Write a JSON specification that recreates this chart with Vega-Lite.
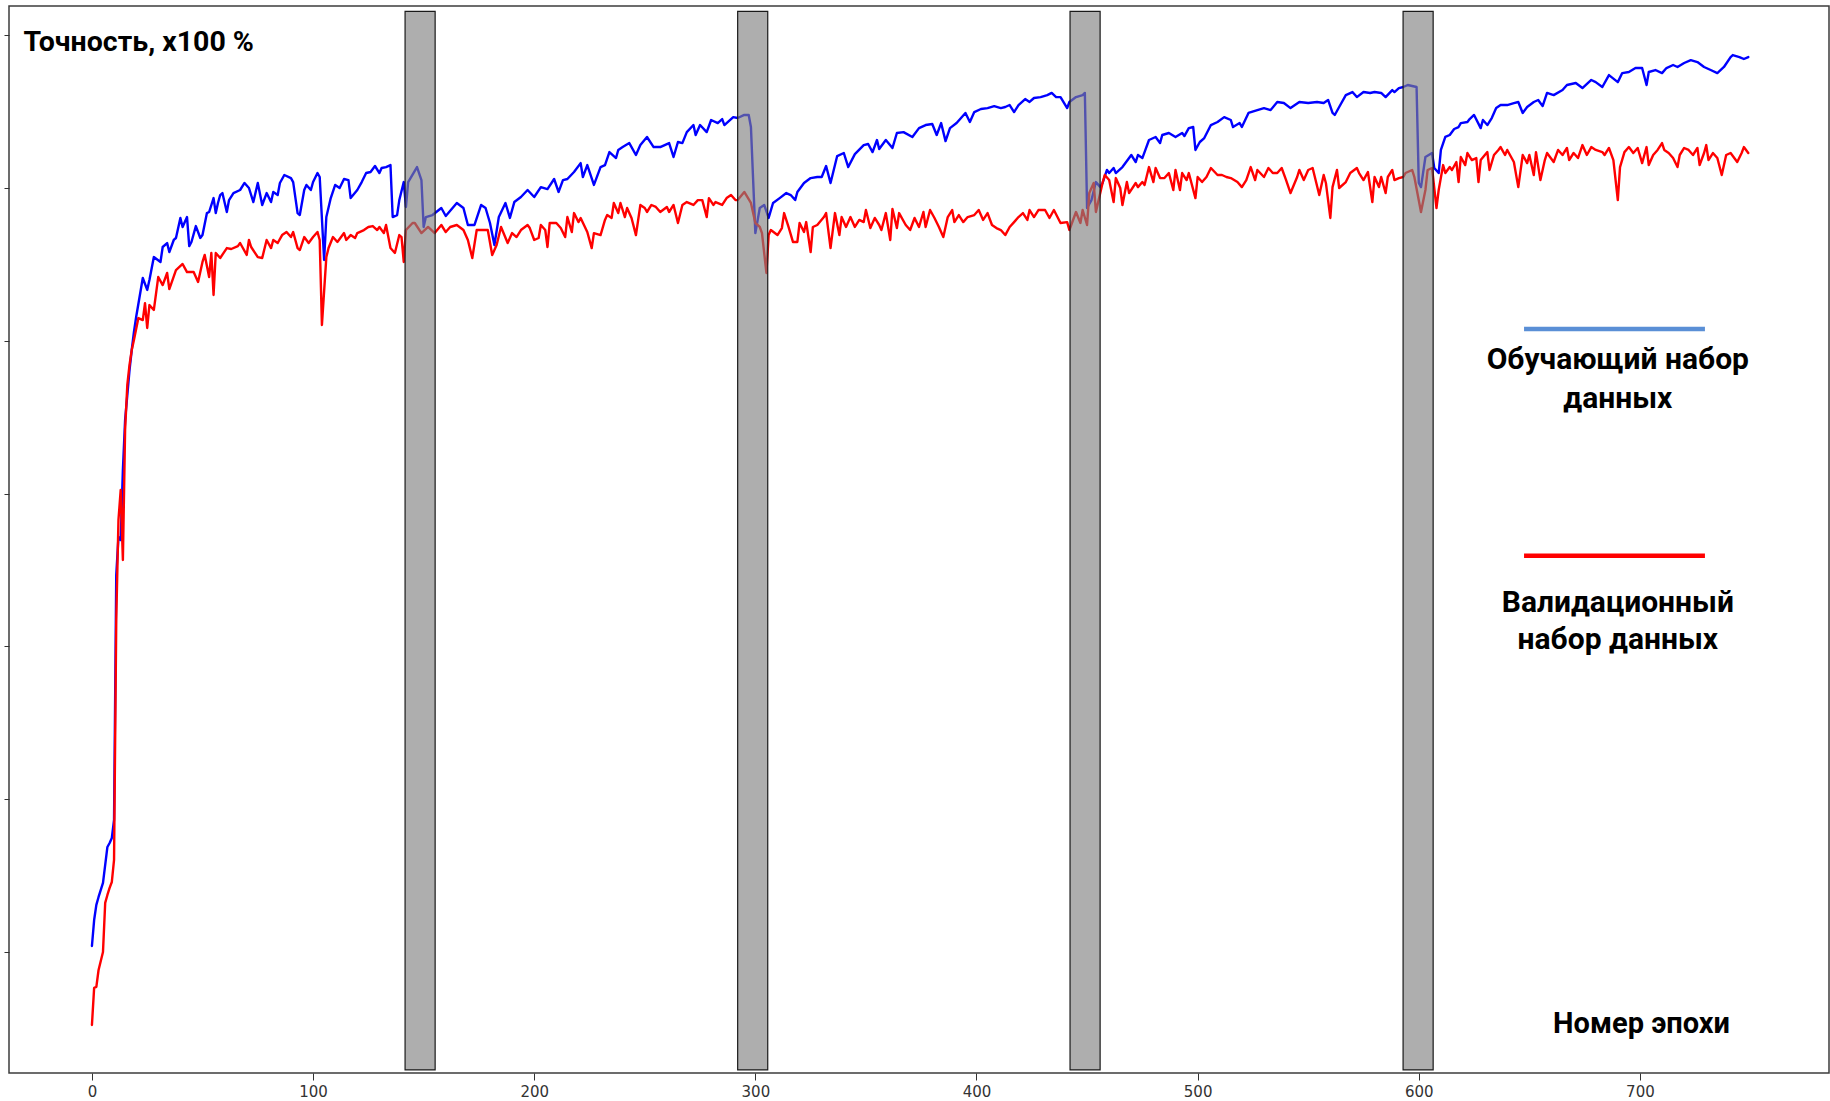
{
"$schema": "https://vega.github.io/schema/vega-lite/v6.json",
"width": 1820,
"height": 1067,
"autosize": {"type": "none"},
"padding": {"left": 9, "top": 6, "right": 1, "bottom": 28},
"background": "white",
"config": {"view": {"stroke": "#3c3c3c", "strokeWidth": 1.5}, "font": "Roboto"},
"datasets": {
"curves": [
{"set":"train","epoch":0,"acc":30.39},{"set":"train","epoch":1,"acc":32.09},{"set":"train","epoch":2,"acc":33.08},{"set":"train","epoch":3,"acc":33.6},{"set":"train","epoch":5,"acc":34.52},{"set":"train","epoch":7,"acc":36.87},{"set":"train","epoch":8,"acc":37.13},{"set":"train","epoch":9,"acc":37.46},{"set":"train","epoch":10,"acc":38.64},{"set":"train","epoch":11,"acc":54.67},{"set":"train","epoch":12,"acc":57.15},{"set":"train","epoch":13,"acc":56.96},{"set":"train","epoch":14,"acc":61.54},{"set":"train","epoch":15,"acc":64.81},{"set":"train","epoch":16,"acc":66.44},{"set":"train","epoch":17,"acc":68.08},{"set":"train","epoch":18,"acc":69.39},{"set":"train","epoch":19,"acc":70.57},{"set":"train","epoch":20,"acc":71.55},{"set":"train","epoch":23,"acc":74.1},{"set":"train","epoch":25,"acc":73.32},{"set":"train","epoch":26,"acc":73.97},{"set":"train","epoch":28,"acc":75.47},{"set":"train","epoch":31,"acc":75.15},{"set":"train","epoch":32,"acc":76.13},{"set":"train","epoch":34,"acc":76.39},{"set":"train","epoch":35,"acc":75.8},{"set":"train","epoch":37,"acc":76.59},{"set":"train","epoch":38,"acc":76.72},{"set":"train","epoch":40,"acc":78.03},{"set":"train","epoch":41,"acc":77.44},{"set":"train","epoch":43,"acc":78.09},{"set":"train","epoch":44,"acc":76.19},{"set":"train","epoch":45,"acc":76.46},{"set":"train","epoch":47,"acc":77.5},{"set":"train","epoch":49,"acc":76.72},{"set":"train","epoch":50,"acc":76.91},{"set":"train","epoch":52,"acc":78.35},{"set":"train","epoch":53,"acc":78.42},{"set":"train","epoch":55,"acc":79.33},{"set":"train","epoch":56,"acc":78.35},{"set":"train","epoch":57,"acc":79.01},{"set":"train","epoch":58,"acc":79.53},{"set":"train","epoch":59,"acc":79.66},{"set":"train","epoch":61,"acc":78.42},{"set":"train","epoch":62,"acc":79.2},{"set":"train","epoch":64,"acc":79.66},{"set":"train","epoch":67,"acc":79.86},{"set":"train","epoch":69,"acc":80.32},{"set":"train","epoch":71,"acc":79.99},{"set":"train","epoch":73,"acc":79.07},{"set":"train","epoch":75,"acc":80.32},{"set":"train","epoch":77,"acc":78.88},{"set":"train","epoch":79,"acc":79.66},{"set":"train","epoch":81,"acc":79.07},{"set":"train","epoch":82,"acc":79.73},{"set":"train","epoch":84,"acc":79.53},{"set":"train","epoch":85,"acc":80.32},{"set":"train","epoch":87,"acc":80.84},{"set":"train","epoch":90,"acc":80.64},{"set":"train","epoch":91,"acc":80.38},{"set":"train","epoch":93,"acc":78.35},{"set":"train","epoch":94,"acc":78.22},{"set":"train","epoch":96,"acc":79.86},{"set":"train","epoch":97,"acc":80.19},{"set":"train","epoch":99,"acc":79.86},{"set":"train","epoch":100,"acc":80.38},{"set":"train","epoch":102,"acc":80.97},{"set":"train","epoch":103,"acc":80.71},{"set":"train","epoch":105,"acc":75.28},{"set":"train","epoch":106,"acc":78.09},{"set":"train","epoch":108,"acc":79.33},{"set":"train","epoch":110,"acc":80.19},{"set":"train","epoch":112,"acc":79.99},{"set":"train","epoch":114,"acc":80.58},{"set":"train","epoch":116,"acc":80.51},{"set":"train","epoch":117,"acc":79.33},{"set":"train","epoch":120,"acc":79.86},{"set":"train","epoch":122,"acc":80.38},{"set":"train","epoch":124,"acc":80.97},{"set":"train","epoch":126,"acc":81.04},{"set":"train","epoch":128,"acc":81.43},{"set":"train","epoch":130,"acc":80.97},{"set":"train","epoch":131,"acc":81.3},{"set":"train","epoch":133,"acc":81.36},{"set":"train","epoch":135,"acc":81.49},{"set":"train","epoch":136,"acc":78.09},{"set":"train","epoch":138,"acc":78.22},{"set":"train","epoch":139,"acc":79.2},{"set":"train","epoch":141,"acc":80.38},{"set":"train","epoch":142,"acc":78.75},{"set":"train","epoch":143,"acc":80.38},{"set":"train","epoch":147,"acc":81.36},{"set":"train","epoch":149,"acc":80.51},{"set":"train","epoch":150,"acc":77.44},{"set":"train","epoch":151,"acc":78.09},{"set":"train","epoch":154,"acc":78.22},{"set":"train","epoch":158,"acc":78.68},{"set":"train","epoch":160,"acc":78.16},{"set":"train","epoch":165,"acc":79.01},{"set":"train","epoch":168,"acc":78.68},{"set":"train","epoch":170,"acc":77.57},{"set":"train","epoch":173,"acc":77.57},{"set":"train","epoch":176,"acc":78.88},{"set":"train","epoch":178,"acc":78.68},{"set":"train","epoch":180,"acc":77.7},{"set":"train","epoch":182,"acc":76.26},{"set":"train","epoch":184,"acc":78.09},{"set":"train","epoch":187,"acc":79.01},{"set":"train","epoch":189,"acc":78.03},{"set":"train","epoch":191,"acc":79.07},{"set":"train","epoch":194,"acc":79.4},{"set":"train","epoch":197,"acc":79.86},{"set":"train","epoch":200,"acc":79.4},{"set":"train","epoch":203,"acc":80.05},{"set":"train","epoch":206,"acc":79.92},{"set":"train","epoch":209,"acc":80.58},{"set":"train","epoch":211,"acc":79.73},{"set":"train","epoch":213,"acc":80.51},{"set":"train","epoch":215,"acc":80.58},{"set":"train","epoch":218,"acc":81.04},{"set":"train","epoch":221,"acc":81.62},{"set":"train","epoch":222,"acc":80.71},{"set":"train","epoch":224,"acc":81.49},{"set":"train","epoch":227,"acc":80.19},{"set":"train","epoch":230,"acc":81.36},{"set":"train","epoch":232,"acc":81.49},{"set":"train","epoch":234,"acc":82.34},{"set":"train","epoch":237,"acc":81.95},{"set":"train","epoch":238,"acc":82.48},{"set":"train","epoch":240,"acc":82.67},{"set":"train","epoch":243,"acc":82.93},{"set":"train","epoch":246,"acc":82.15},{"set":"train","epoch":248,"acc":82.8},{"set":"train","epoch":251,"acc":83.33},{"set":"train","epoch":254,"acc":82.67},{"set":"train","epoch":257,"acc":82.67},{"set":"train","epoch":261,"acc":82.93},{"set":"train","epoch":263,"acc":82.02},{"set":"train","epoch":265,"acc":83.0},{"set":"train","epoch":267,"acc":82.93},{"set":"train","epoch":269,"acc":83.65},{"set":"train","epoch":272,"acc":84.11},{"set":"train","epoch":273,"acc":83.46},{"set":"train","epoch":275,"acc":84.11},{"set":"train","epoch":278,"acc":83.65},{"set":"train","epoch":280,"acc":84.44},{"set":"train","epoch":283,"acc":84.24},{"set":"train","epoch":285,"acc":84.5},{"set":"train","epoch":286,"acc":84.11},{"set":"train","epoch":290,"acc":84.63},{"set":"train","epoch":292,"acc":84.57},{"set":"train","epoch":295,"acc":84.77},{"set":"train","epoch":297,"acc":84.77},{"set":"train","epoch":298,"acc":83.98},{"set":"train","epoch":300,"acc":77.04},{"set":"train","epoch":302,"acc":78.68},{"set":"train","epoch":304,"acc":78.88},{"set":"train","epoch":306,"acc":78.03},{"set":"train","epoch":308,"acc":79.01},{"set":"train","epoch":311,"acc":79.33},{"set":"train","epoch":314,"acc":79.66},{"set":"train","epoch":316,"acc":79.53},{"set":"train","epoch":318,"acc":79.2},{"set":"train","epoch":319,"acc":79.73},{"set":"train","epoch":322,"acc":80.32},{"set":"train","epoch":325,"acc":80.64},{"set":"train","epoch":328,"acc":80.71},{"set":"train","epoch":330,"acc":80.71},{"set":"train","epoch":332,"acc":81.43},{"set":"train","epoch":334,"acc":80.32},{"set":"train","epoch":337,"acc":82.08},{"set":"train","epoch":340,"acc":82.28},{"set":"train","epoch":342,"acc":81.36},{"set":"train","epoch":345,"acc":82.21},{"set":"train","epoch":349,"acc":82.8},{"set":"train","epoch":351,"acc":82.87},{"set":"train","epoch":353,"acc":82.34},{"set":"train","epoch":355,"acc":83.13},{"set":"train","epoch":356,"acc":82.54},{"set":"train","epoch":359,"acc":83.13},{"set":"train","epoch":362,"acc":82.61},{"set":"train","epoch":364,"acc":83.59},{"set":"train","epoch":367,"acc":83.65},{"set":"train","epoch":371,"acc":83.33},{"set":"train","epoch":374,"acc":83.91},{"set":"train","epoch":377,"acc":84.11},{"set":"train","epoch":380,"acc":84.18},{"set":"train","epoch":382,"acc":83.46},{"set":"train","epoch":384,"acc":84.24},{"set":"train","epoch":386,"acc":83.06},{"set":"train","epoch":388,"acc":83.91},{"set":"train","epoch":391,"acc":84.24},{"set":"train","epoch":395,"acc":84.9},{"set":"train","epoch":397,"acc":84.31},{"set":"train","epoch":399,"acc":84.96},{"set":"train","epoch":402,"acc":85.16},{"set":"train","epoch":405,"acc":85.22},{"set":"train","epoch":408,"acc":85.35},{"set":"train","epoch":411,"acc":85.22},{"set":"train","epoch":413,"acc":85.29},{"set":"train","epoch":415,"acc":85.42},{"set":"train","epoch":417,"acc":84.96},{"set":"train","epoch":419,"acc":85.42},{"set":"train","epoch":422,"acc":85.81},{"set":"train","epoch":424,"acc":85.62},{"set":"train","epoch":426,"acc":85.88},{"set":"train","epoch":429,"acc":85.94},{"set":"train","epoch":432,"acc":86.07},{"set":"train","epoch":434,"acc":86.21},{"set":"train","epoch":436,"acc":85.94},{"set":"train","epoch":438,"acc":85.94},{"set":"train","epoch":441,"acc":85.22},{"set":"train","epoch":442,"acc":85.62},{"set":"train","epoch":445,"acc":85.94},{"set":"train","epoch":448,"acc":86.07},{"set":"train","epoch":449,"acc":86.21},{"set":"train","epoch":450,"acc":78.68},{"set":"train","epoch":452,"acc":79.2},{"set":"train","epoch":454,"acc":80.38},{"set":"train","epoch":456,"acc":80.05},{"set":"train","epoch":457,"acc":80.32},{"set":"train","epoch":459,"acc":81.17},{"set":"train","epoch":460,"acc":80.97},{"set":"train","epoch":462,"acc":81.3},{"set":"train","epoch":463,"acc":80.97},{"set":"train","epoch":466,"acc":81.36},{"set":"train","epoch":470,"acc":82.15},{"set":"train","epoch":472,"acc":81.69},{"set":"train","epoch":473,"acc":82.15},{"set":"train","epoch":475,"acc":81.95},{"set":"train","epoch":476,"acc":82.34},{"set":"train","epoch":478,"acc":83.13},{"set":"train","epoch":481,"acc":83.33},{"set":"train","epoch":483,"acc":82.93},{"set":"train","epoch":484,"acc":83.46},{"set":"train","epoch":487,"acc":83.59},{"set":"train","epoch":490,"acc":83.33},{"set":"train","epoch":493,"acc":83.59},{"set":"train","epoch":494,"acc":83.39},{"set":"train","epoch":496,"acc":83.91},{"set":"train","epoch":498,"acc":83.98},{"set":"train","epoch":499,"acc":82.48},{"set":"train","epoch":501,"acc":83.0},{"set":"train","epoch":503,"acc":83.26},{"set":"train","epoch":506,"acc":84.11},{"set":"train","epoch":509,"acc":84.31},{"set":"train","epoch":512,"acc":84.63},{"set":"train","epoch":515,"acc":84.44},{"set":"train","epoch":516,"acc":83.98},{"set":"train","epoch":519,"acc":84.24},{"set":"train","epoch":520,"acc":83.98},{"set":"train","epoch":523,"acc":84.9},{"set":"train","epoch":527,"acc":85.09},{"set":"train","epoch":530,"acc":85.22},{"set":"train","epoch":533,"acc":85.09},{"set":"train","epoch":536,"acc":85.62},{"set":"train","epoch":539,"acc":85.55},{"set":"train","epoch":542,"acc":85.22},{"set":"train","epoch":546,"acc":85.62},{"set":"train","epoch":550,"acc":85.55},{"set":"train","epoch":554,"acc":85.62},{"set":"train","epoch":557,"acc":85.55},{"set":"train","epoch":559,"acc":85.75},{"set":"train","epoch":561,"acc":84.9},{"set":"train","epoch":562,"acc":84.77},{"set":"train","epoch":564,"acc":85.29},{"set":"train","epoch":567,"acc":86.07},{"set":"train","epoch":570,"acc":86.27},{"set":"train","epoch":572,"acc":85.94},{"set":"train","epoch":575,"acc":86.27},{"set":"train","epoch":578,"acc":86.21},{"set":"train","epoch":580,"acc":86.27},{"set":"train","epoch":583,"acc":86.21},{"set":"train","epoch":585,"acc":85.94},{"set":"train","epoch":588,"acc":86.4},{"set":"train","epoch":589,"acc":86.27},{"set":"train","epoch":591,"acc":86.53},{"set":"train","epoch":593,"acc":86.6},{"set":"train","epoch":595,"acc":86.73},{"set":"train","epoch":599,"acc":86.6},{"set":"train","epoch":600,"acc":80.32},{"set":"train","epoch":601,"acc":80.05},{"set":"train","epoch":603,"acc":82.02},{"set":"train","epoch":606,"acc":82.28},{"set":"train","epoch":607,"acc":81.3},{"set":"train","epoch":609,"acc":80.97},{"set":"train","epoch":610,"acc":82.48},{"set":"train","epoch":612,"acc":83.33},{"set":"train","epoch":614,"acc":83.46},{"set":"train","epoch":616,"acc":83.85},{"set":"train","epoch":618,"acc":83.98},{"set":"train","epoch":619,"acc":84.24},{"set":"train","epoch":622,"acc":84.31},{"set":"train","epoch":623,"acc":84.5},{"set":"train","epoch":625,"acc":84.77},{"set":"train","epoch":628,"acc":83.91},{"set":"train","epoch":629,"acc":84.44},{"set":"train","epoch":631,"acc":84.11},{"set":"train","epoch":633,"acc":84.57},{"set":"train","epoch":635,"acc":85.22},{"set":"train","epoch":637,"acc":85.42},{"set":"train","epoch":640,"acc":85.42},{"set":"train","epoch":643,"acc":85.55},{"set":"train","epoch":645,"acc":85.62},{"set":"train","epoch":647,"acc":84.9},{"set":"train","epoch":649,"acc":85.29},{"set":"train","epoch":652,"acc":85.62},{"set":"train","epoch":654,"acc":85.75},{"set":"train","epoch":656,"acc":85.35},{"set":"train","epoch":658,"acc":86.21},{"set":"train","epoch":661,"acc":86.07},{"set":"train","epoch":665,"acc":86.4},{"set":"train","epoch":667,"acc":86.73},{"set":"train","epoch":671,"acc":86.86},{"set":"train","epoch":674,"acc":86.53},{"set":"train","epoch":678,"acc":87.06},{"set":"train","epoch":680,"acc":86.92},{"set":"train","epoch":683,"acc":86.6},{"set":"train","epoch":686,"acc":87.38},{"set":"train","epoch":690,"acc":86.92},{"set":"train","epoch":692,"acc":87.51},{"set":"train","epoch":695,"acc":87.58},{"set":"train","epoch":698,"acc":87.84},{"set":"train","epoch":701,"acc":87.84},{"set":"train","epoch":703,"acc":86.73},{"set":"train","epoch":704,"acc":87.58},{"set":"train","epoch":707,"acc":87.71},{"set":"train","epoch":710,"acc":87.51},{"set":"train","epoch":712,"acc":87.84},{"set":"train","epoch":715,"acc":88.04},{"set":"train","epoch":717,"acc":87.91},{"set":"train","epoch":720,"acc":88.17},{"set":"train","epoch":723,"acc":88.36},{"set":"train","epoch":726,"acc":88.23},{"set":"train","epoch":729,"acc":87.91},{"set":"train","epoch":732,"acc":87.71},{"set":"train","epoch":735,"acc":87.51},{"set":"train","epoch":738,"acc":87.91},{"set":"train","epoch":741,"acc":88.56},{"set":"train","epoch":742,"acc":88.69},{"set":"train","epoch":745,"acc":88.56},{"set":"train","epoch":747,"acc":88.43},{"set":"train","epoch":749,"acc":88.56},
{"set":"val","epoch":0,"acc":25.22},{"set":"val","epoch":1,"acc":27.65},{"set":"val","epoch":2,"acc":27.71},{"set":"val","epoch":3,"acc":28.82},{"set":"val","epoch":5,"acc":30.0},{"set":"val","epoch":6,"acc":33.21},{"set":"val","epoch":7,"acc":33.73},{"set":"val","epoch":8,"acc":34.19},{"set":"val","epoch":9,"acc":34.58},{"set":"val","epoch":10,"acc":36.02},{"set":"val","epoch":11,"acc":51.72},{"set":"val","epoch":12,"acc":58.27},{"set":"val","epoch":13,"acc":60.23},{"set":"val","epoch":14,"acc":55.65},{"set":"val","epoch":15,"acc":64.16},{"set":"val","epoch":16,"acc":67.1},{"set":"val","epoch":17,"acc":68.41},{"set":"val","epoch":18,"acc":69.39},{"set":"val","epoch":19,"acc":70.04},{"set":"val","epoch":21,"acc":71.48},{"set":"val","epoch":23,"acc":71.35},{"set":"val","epoch":24,"acc":72.46},{"set":"val","epoch":25,"acc":70.83},{"set":"val","epoch":26,"acc":72.33},{"set":"val","epoch":28,"acc":72.01},{"set":"val","epoch":30,"acc":74.17},{"set":"val","epoch":32,"acc":73.64},{"set":"val","epoch":34,"acc":74.43},{"set":"val","epoch":35,"acc":73.38},{"set":"val","epoch":38,"acc":74.62},{"set":"val","epoch":41,"acc":75.02},{"set":"val","epoch":43,"acc":74.49},{"set":"val","epoch":46,"acc":74.49},{"set":"val","epoch":48,"acc":73.84},{"set":"val","epoch":50,"acc":75.15},{"set":"val","epoch":51,"acc":75.61},{"set":"val","epoch":53,"acc":74.17},{"set":"val","epoch":54,"acc":75.74},{"set":"val","epoch":55,"acc":72.99},{"set":"val","epoch":56,"acc":75.74},{"set":"val","epoch":58,"acc":75.41},{"set":"val","epoch":61,"acc":76.06},{"set":"val","epoch":63,"acc":76.0},{"set":"val","epoch":66,"acc":76.19},{"set":"val","epoch":67,"acc":76.39},{"set":"val","epoch":68,"acc":76.13},{"set":"val","epoch":70,"acc":75.61},{"set":"val","epoch":71,"acc":76.59},{"set":"val","epoch":72,"acc":76.13},{"set":"val","epoch":75,"acc":75.47},{"set":"val","epoch":77,"acc":75.41},{"set":"val","epoch":79,"acc":76.59},{"set":"val","epoch":81,"acc":76.06},{"set":"val","epoch":82,"acc":76.59},{"set":"val","epoch":84,"acc":76.39},{"set":"val","epoch":86,"acc":76.91},{"set":"val","epoch":88,"acc":77.11},{"set":"val","epoch":90,"acc":76.78},{"set":"val","epoch":91,"acc":77.11},{"set":"val","epoch":93,"acc":76.06},{"set":"val","epoch":94,"acc":75.93},{"set":"val","epoch":96,"acc":76.78},{"set":"val","epoch":98,"acc":76.39},{"set":"val","epoch":100,"acc":76.78},{"set":"val","epoch":102,"acc":77.11},{"set":"val","epoch":103,"acc":76.59},{"set":"val","epoch":104,"acc":71.03},{"set":"val","epoch":106,"acc":75.47},{"set":"val","epoch":107,"acc":76.06},{"set":"val","epoch":109,"acc":76.78},{"set":"val","epoch":111,"acc":76.46},{"set":"val","epoch":114,"acc":77.04},{"set":"val","epoch":115,"acc":76.59},{"set":"val","epoch":117,"acc":76.91},{"set":"val","epoch":119,"acc":76.72},{"set":"val","epoch":120,"acc":77.04},{"set":"val","epoch":123,"acc":77.24},{"set":"val","epoch":125,"acc":77.44},{"set":"val","epoch":127,"acc":77.5},{"set":"val","epoch":129,"acc":77.24},{"set":"val","epoch":130,"acc":77.44},{"set":"val","epoch":132,"acc":77.04},{"set":"val","epoch":133,"acc":77.57},{"set":"val","epoch":135,"acc":76.06},{"set":"val","epoch":137,"acc":75.74},{"set":"val","epoch":139,"acc":76.91},{"set":"val","epoch":140,"acc":76.78},{"set":"val","epoch":141,"acc":75.15},{"set":"val","epoch":142,"acc":77.24},{"set":"val","epoch":145,"acc":77.7},{"set":"val","epoch":146,"acc":77.7},{"set":"val","epoch":149,"acc":77.04},{"set":"val","epoch":152,"acc":77.44},{"set":"val","epoch":155,"acc":77.04},{"set":"val","epoch":158,"acc":77.57},{"set":"val","epoch":160,"acc":77.11},{"set":"val","epoch":162,"acc":77.44},{"set":"val","epoch":165,"acc":77.57},{"set":"val","epoch":168,"acc":77.24},{"set":"val","epoch":170,"acc":76.59},{"set":"val","epoch":172,"acc":75.41},{"set":"val","epoch":174,"acc":77.24},{"set":"val","epoch":177,"acc":77.24},{"set":"val","epoch":179,"acc":77.24},{"set":"val","epoch":181,"acc":75.61},{"set":"val","epoch":183,"acc":76.26},{"set":"val","epoch":185,"acc":77.44},{"set":"val","epoch":188,"acc":76.39},{"set":"val","epoch":190,"acc":77.04},{"set":"val","epoch":192,"acc":76.78},{"set":"val","epoch":194,"acc":77.24},{"set":"val","epoch":197,"acc":77.57},{"set":"val","epoch":198,"acc":77.37},{"set":"val","epoch":200,"acc":76.59},{"set":"val","epoch":202,"acc":76.72},{"set":"val","epoch":203,"acc":77.57},{"set":"val","epoch":205,"acc":77.24},{"set":"val","epoch":206,"acc":76.13},{"set":"val","epoch":207,"acc":77.7},{"set":"val","epoch":210,"acc":77.7},{"set":"val","epoch":212,"acc":77.37},{"set":"val","epoch":214,"acc":76.78},{"set":"val","epoch":215,"acc":78.09},{"set":"val","epoch":217,"acc":77.11},{"set":"val","epoch":218,"acc":78.35},{"set":"val","epoch":220,"acc":77.76},{"set":"val","epoch":221,"acc":78.03},{"set":"val","epoch":224,"acc":77.11},{"set":"val","epoch":226,"acc":76.06},{"set":"val","epoch":227,"acc":77.04},{"set":"val","epoch":230,"acc":76.91},{"set":"val","epoch":232,"acc":77.9},{"set":"val","epoch":233,"acc":78.22},{"set":"val","epoch":235,"acc":78.03},{"set":"val","epoch":236,"acc":79.01},{"set":"val","epoch":238,"acc":78.35},{"set":"val","epoch":239,"acc":79.01},{"set":"val","epoch":241,"acc":78.09},{"set":"val","epoch":242,"acc":78.68},{"set":"val","epoch":244,"acc":78.03},{"set":"val","epoch":246,"acc":76.91},{"set":"val","epoch":248,"acc":78.88},{"set":"val","epoch":250,"acc":78.68},{"set":"val","epoch":251,"acc":78.42},{"set":"val","epoch":253,"acc":78.88},{"set":"val","epoch":255,"acc":78.75},{"set":"val","epoch":257,"acc":78.42},{"set":"val","epoch":260,"acc":78.75},{"set":"val","epoch":261,"acc":78.42},{"set":"val","epoch":263,"acc":78.88},{"set":"val","epoch":265,"acc":77.7},{"set":"val","epoch":267,"acc":78.88},{"set":"val","epoch":269,"acc":79.07},{"set":"val","epoch":272,"acc":78.88},{"set":"val","epoch":274,"acc":79.2},{"set":"val","epoch":276,"acc":79.2},{"set":"val","epoch":278,"acc":78.09},{"set":"val","epoch":279,"acc":79.33},{"set":"val","epoch":281,"acc":78.88},{"set":"val","epoch":282,"acc":79.07},{"set":"val","epoch":285,"acc":78.88},{"set":"val","epoch":287,"acc":79.33},{"set":"val","epoch":289,"acc":79.53},{"set":"val","epoch":291,"acc":79.2},{"set":"val","epoch":292,"acc":79.2},{"set":"val","epoch":295,"acc":79.73},{"set":"val","epoch":298,"acc":79.01},{"set":"val","epoch":300,"acc":77.7},{"set":"val","epoch":302,"acc":77.44},{"set":"val","epoch":303,"acc":77.04},{"set":"val","epoch":305,"acc":74.43},{"set":"val","epoch":306,"acc":76.91},{"set":"val","epoch":307,"acc":77.24},{"set":"val","epoch":310,"acc":76.91},{"set":"val","epoch":312,"acc":77.37},{"set":"val","epoch":313,"acc":78.35},{"set":"val","epoch":315,"acc":77.44},{"set":"val","epoch":317,"acc":76.46},{"set":"val","epoch":319,"acc":76.46},{"set":"val","epoch":320,"acc":77.7},{"set":"val","epoch":322,"acc":77.11},{"set":"val","epoch":323,"acc":77.76},{"set":"val","epoch":325,"acc":75.8},{"set":"val","epoch":326,"acc":77.44},{"set":"val","epoch":328,"acc":77.57},{"set":"val","epoch":331,"acc":78.09},{"set":"val","epoch":332,"acc":78.35},{"set":"val","epoch":334,"acc":76.06},{"set":"val","epoch":336,"acc":78.35},{"set":"val","epoch":338,"acc":76.91},{"set":"val","epoch":339,"acc":78.09},{"set":"val","epoch":341,"acc":77.44},{"set":"val","epoch":343,"acc":78.09},{"set":"val","epoch":345,"acc":77.44},{"set":"val","epoch":347,"acc":77.9},{"set":"val","epoch":349,"acc":77.76},{"set":"val","epoch":350,"acc":78.55},{"set":"val","epoch":352,"acc":77.37},{"set":"val","epoch":354,"acc":78.03},{"set":"val","epoch":356,"acc":77.57},{"set":"val","epoch":357,"acc":77.24},{"set":"val","epoch":359,"acc":78.35},{"set":"val","epoch":361,"acc":76.59},{"set":"val","epoch":362,"acc":78.62},{"set":"val","epoch":364,"acc":77.37},{"set":"val","epoch":365,"acc":78.35},{"set":"val","epoch":368,"acc":77.57},{"set":"val","epoch":370,"acc":77.24},{"set":"val","epoch":372,"acc":78.03},{"set":"val","epoch":374,"acc":77.44},{"set":"val","epoch":376,"acc":78.42},{"set":"val","epoch":377,"acc":77.44},{"set":"val","epoch":379,"acc":78.55},{"set":"val","epoch":381,"acc":78.03},{"set":"val","epoch":383,"acc":77.44},{"set":"val","epoch":385,"acc":76.78},{"set":"val","epoch":387,"acc":78.09},{"set":"val","epoch":389,"acc":78.55},{"set":"val","epoch":390,"acc":77.76},{"set":"val","epoch":392,"acc":78.22},{"set":"val","epoch":394,"acc":77.76},{"set":"val","epoch":396,"acc":78.09},{"set":"val","epoch":399,"acc":78.22},{"set":"val","epoch":401,"acc":78.55},{"set":"val","epoch":403,"acc":77.9},{"set":"val","epoch":405,"acc":78.35},{"set":"val","epoch":407,"acc":77.57},{"set":"val","epoch":409,"acc":77.37},{"set":"val","epoch":411,"acc":77.24},{"set":"val","epoch":413,"acc":76.91},{"set":"val","epoch":415,"acc":77.44},{"set":"val","epoch":417,"acc":77.76},{"set":"val","epoch":419,"acc":78.09},{"set":"val","epoch":421,"acc":78.35},{"set":"val","epoch":423,"acc":77.9},{"set":"val","epoch":424,"acc":78.55},{"set":"val","epoch":426,"acc":78.09},{"set":"val","epoch":428,"acc":78.55},{"set":"val","epoch":431,"acc":78.55},{"set":"val","epoch":433,"acc":78.03},{"set":"val","epoch":435,"acc":78.55},{"set":"val","epoch":438,"acc":77.7},{"set":"val","epoch":441,"acc":77.76},{"set":"val","epoch":442,"acc":77.24},{"set":"val","epoch":445,"acc":78.42},{"set":"val","epoch":447,"acc":77.7},{"set":"val","epoch":448,"acc":78.55},{"set":"val","epoch":450,"acc":77.57},{"set":"val","epoch":451,"acc":79.66},{"set":"val","epoch":453,"acc":80.32},{"set":"val","epoch":454,"acc":78.42},{"set":"val","epoch":457,"acc":80.32},{"set":"val","epoch":458,"acc":80.84},{"set":"val","epoch":460,"acc":80.51},{"set":"val","epoch":462,"acc":79.07},{"set":"val","epoch":463,"acc":80.64},{"set":"val","epoch":465,"acc":79.99},{"set":"val","epoch":466,"acc":78.88},{"set":"val","epoch":468,"acc":80.38},{"set":"val","epoch":469,"acc":79.66},{"set":"val","epoch":472,"acc":80.32},{"set":"val","epoch":473,"acc":80.05},{"set":"val","epoch":475,"acc":80.38},{"set":"val","epoch":476,"acc":80.19},{"set":"val","epoch":478,"acc":81.36},{"set":"val","epoch":480,"acc":80.38},{"set":"val","epoch":481,"acc":81.3},{"set":"val","epoch":483,"acc":80.64},{"set":"val","epoch":485,"acc":80.64},{"set":"val","epoch":487,"acc":80.97},{"set":"val","epoch":489,"acc":79.86},{"set":"val","epoch":490,"acc":81.17},{"set":"val","epoch":492,"acc":79.86},{"set":"val","epoch":493,"acc":80.97},{"set":"val","epoch":495,"acc":80.51},{"set":"val","epoch":496,"acc":80.97},{"set":"val","epoch":499,"acc":79.33},{"set":"val","epoch":500,"acc":80.71},{"set":"val","epoch":502,"acc":80.38},{"set":"val","epoch":504,"acc":80.71},{"set":"val","epoch":506,"acc":81.3},{"set":"val","epoch":509,"acc":80.84},{"set":"val","epoch":511,"acc":80.84},{"set":"val","epoch":513,"acc":80.71},{"set":"val","epoch":515,"acc":80.64},{"set":"val","epoch":518,"acc":80.38},{"set":"val","epoch":520,"acc":80.05},{"set":"val","epoch":522,"acc":80.51},{"set":"val","epoch":524,"acc":81.36},{"set":"val","epoch":526,"acc":80.51},{"set":"val","epoch":527,"acc":81.17},{"set":"val","epoch":530,"acc":80.71},{"set":"val","epoch":532,"acc":81.3},{"set":"val","epoch":534,"acc":80.97},{"set":"val","epoch":536,"acc":80.97},{"set":"val","epoch":538,"acc":81.3},{"set":"val","epoch":540,"acc":80.51},{"set":"val","epoch":542,"acc":79.66},{"set":"val","epoch":545,"acc":80.71},{"set":"val","epoch":546,"acc":81.17},{"set":"val","epoch":548,"acc":80.51},{"set":"val","epoch":550,"acc":81.17},{"set":"val","epoch":552,"acc":81.3},{"set":"val","epoch":555,"acc":79.53},{"set":"val","epoch":557,"acc":80.84},{"set":"val","epoch":558,"acc":80.32},{"set":"val","epoch":560,"acc":78.03},{"set":"val","epoch":561,"acc":80.05},{"set":"val","epoch":563,"acc":81.17},{"set":"val","epoch":564,"acc":79.99},{"set":"val","epoch":567,"acc":80.38},{"set":"val","epoch":569,"acc":80.97},{"set":"val","epoch":572,"acc":81.3},{"set":"val","epoch":573,"acc":80.97},{"set":"val","epoch":575,"acc":80.51},{"set":"val","epoch":577,"acc":81.04},{"set":"val","epoch":579,"acc":79.07},{"set":"val","epoch":580,"acc":80.71},{"set":"val","epoch":582,"acc":80.05},{"set":"val","epoch":583,"acc":80.71},{"set":"val","epoch":585,"acc":79.66},{"set":"val","epoch":586,"acc":80.71},{"set":"val","epoch":588,"acc":81.17},{"set":"val","epoch":589,"acc":80.51},{"set":"val","epoch":591,"acc":80.64},{"set":"val","epoch":593,"acc":80.71},{"set":"val","epoch":594,"acc":80.97},{"set":"val","epoch":597,"acc":81.17},{"set":"val","epoch":598,"acc":80.71},{"set":"val","epoch":601,"acc":78.42},{"set":"val","epoch":603,"acc":79.86},{"set":"val","epoch":604,"acc":81.17},{"set":"val","epoch":606,"acc":81.3},{"set":"val","epoch":608,"acc":78.68},{"set":"val","epoch":609,"acc":79.86},{"set":"val","epoch":611,"acc":81.49},{"set":"val","epoch":612,"acc":80.97},{"set":"val","epoch":614,"acc":81.36},{"set":"val","epoch":615,"acc":81.17},{"set":"val","epoch":617,"acc":81.69},{"set":"val","epoch":618,"acc":80.38},{"set":"val","epoch":619,"acc":82.02},{"set":"val","epoch":621,"acc":81.49},{"set":"val","epoch":622,"acc":82.28},{"set":"val","epoch":624,"acc":81.82},{"set":"val","epoch":626,"acc":81.95},{"set":"val","epoch":627,"acc":80.38},{"set":"val","epoch":628,"acc":81.82},{"set":"val","epoch":631,"acc":82.34},{"set":"val","epoch":632,"acc":81.17},{"set":"val","epoch":634,"acc":82.15},{"set":"val","epoch":636,"acc":82.48},{"set":"val","epoch":637,"acc":82.67},{"set":"val","epoch":639,"acc":82.15},{"set":"val","epoch":640,"acc":82.48},{"set":"val","epoch":643,"acc":81.69},{"set":"val","epoch":645,"acc":80.05},{"set":"val","epoch":647,"acc":82.15},{"set":"val","epoch":649,"acc":81.62},{"set":"val","epoch":650,"acc":82.15},{"set":"val","epoch":652,"acc":80.84},{"set":"val","epoch":653,"acc":82.34},{"set":"val","epoch":655,"acc":80.51},{"set":"val","epoch":657,"acc":81.82},{"set":"val","epoch":658,"acc":82.28},{"set":"val","epoch":661,"acc":81.69},{"set":"val","epoch":663,"acc":82.48},{"set":"val","epoch":665,"acc":82.15},{"set":"val","epoch":667,"acc":82.61},{"set":"val","epoch":668,"acc":81.82},{"set":"val","epoch":670,"acc":82.28},{"set":"val","epoch":672,"acc":81.95},{"set":"val","epoch":674,"acc":82.8},{"set":"val","epoch":676,"acc":82.15},{"set":"val","epoch":678,"acc":82.67},{"set":"val","epoch":680,"acc":82.48},{"set":"val","epoch":683,"acc":82.34},{"set":"val","epoch":684,"acc":82.15},{"set":"val","epoch":686,"acc":82.61},{"set":"val","epoch":688,"acc":81.82},{"set":"val","epoch":690,"acc":79.2},{"set":"val","epoch":691,"acc":81.36},{"set":"val","epoch":693,"acc":82.34},{"set":"val","epoch":695,"acc":82.67},{"set":"val","epoch":697,"acc":82.28},{"set":"val","epoch":699,"acc":82.61},{"set":"val","epoch":701,"acc":81.62},{"set":"val","epoch":703,"acc":82.67},{"set":"val","epoch":704,"acc":81.49},{"set":"val","epoch":706,"acc":82.15},{"set":"val","epoch":708,"acc":82.48},{"set":"val","epoch":710,"acc":82.93},{"set":"val","epoch":711,"acc":82.48},{"set":"val","epoch":713,"acc":82.28},{"set":"val","epoch":715,"acc":81.95},{"set":"val","epoch":717,"acc":81.36},{"set":"val","epoch":718,"acc":82.15},{"set":"val","epoch":720,"acc":82.61},{"set":"val","epoch":722,"acc":82.48},{"set":"val","epoch":724,"acc":82.15},{"set":"val","epoch":726,"acc":82.61},{"set":"val","epoch":727,"acc":81.49},{"set":"val","epoch":729,"acc":82.28},{"set":"val","epoch":730,"acc":82.8},{"set":"val","epoch":731,"acc":81.82},{"set":"val","epoch":733,"acc":82.28},{"set":"val","epoch":735,"acc":81.95},{"set":"val","epoch":737,"acc":80.84},{"set":"val","epoch":739,"acc":82.15},{"set":"val","epoch":741,"acc":82.28},{"set":"val","epoch":744,"acc":81.69},{"set":"val","epoch":746,"acc":82.28},{"set":"val","epoch":747,"acc":82.67},{"set":"val","epoch":749,"acc":82.28}
],
"bands": [
{"start":141.6,"end":155.2},{"start":292.0,"end":305.6},{"start":442.3,"end":455.9},{"start":592.9,"end":606.5}
],
"keys": [
{"set":"train","from":647.6,"to":729.4,"acc":70.76},{"set":"val","from":647.6,"to":729.4,"acc":55.93}
],
"keyLabels": [
{"label":"Обучающий набор","epoch":690,"acc":68.15},{"label":"данных","epoch":690,"acc":65.59},{"label":"Валидационный","epoch":690,"acc":52.27},{"label":"набор данных","epoch":690,"acc":49.83}
]
},
"layer": [
{
"data": {"name": "curves"},
"mark": {"type": "line", "strokeWidth": 2.4, "interpolate": "linear", "strokeJoin": "round", "strokeCap": "round"},
"encoding": {
"x": {"field": "epoch", "type": "quantitative",
"scale": {"domain": [-37.5, 785.5], "nice": false, "zero": false},
"axis": {"values": [0,100,200,300,400,500,600,700], "grid": false, "domain": false,
"labelFont": "DejaVu Sans", "labelFontSize": 15, "labelColor": "#333333", "labelFlush": false,
"tickColor": "#333333", "tickSize": 7, "labelPadding": 4,
"title": "Номер эпохи", "titleFont": "Roboto", "titleFontSize": 29, "titleFontWeight": "bold", "titleColor": "#000000",
"titleX": 1632, "titleY": -41, "titleAlign": "center", "titleBaseline": "alphabetic"}},
"y": {"field": "acc", "type": "quantitative",
"scale": {"domain": [22.08, 91.9], "nice": false, "zero": false},
"axis": {"values": [30,40,50,60,70,80,90], "grid": false, "domain": false, "labels": false,
"tickColor": "#333333", "tickSize": 5,
"title": "Точность, x100 %", "titleFont": "Roboto", "titleFontSize": 28.5, "titleFontWeight": "bold", "titleColor": "#000000",
"titleAngle": 0, "titleX": 14, "titleY": 44, "titleAlign": "left", "titleBaseline": "alphabetic"}},
"color": {"field": "set", "type": "nominal", "scale": {"domain": ["train", "val"], "range": ["#0000ff", "#ff0000"]}, "legend": null}
}
},
{
"data": {"name": "bands"},
"mark": {"type": "rect", "fill": "#808080", "fillOpacity": 0.64, "stroke": "#1a1a1a", "strokeWidth": 1.2},
"encoding": {
"x": {"field": "start", "type": "quantitative"},
"x2": {"field": "end"},
"y": {"datum": 91.55},
"y2": {"datum": 22.28}
}
},
{
"data": {"name": "keys"},
"transform": [{"filter": "datum.set === 'train'"}],
"mark": {"type": "rule", "color": "#5a8fd6", "strokeWidth": 4.5},
"encoding": {
"x": {"field": "from", "type": "quantitative"},
"x2": {"field": "to"},
"y": {"field": "acc", "type": "quantitative"}
}
},
{
"data": {"name": "keys"},
"transform": [{"filter": "datum.set === 'val'"}],
"mark": {"type": "rule", "color": "#ff0000", "strokeWidth": 4.5},
"encoding": {
"x": {"field": "from", "type": "quantitative"},
"x2": {"field": "to"},
"y": {"field": "acc", "type": "quantitative"}
}
},
{
"data": {"name": "keyLabels"},
"mark": {"type": "text", "font": "Roboto", "fontSize": 30, "fontWeight": "bold", "color": "#000000", "align": "center", "baseline": "alphabetic"},
"encoding": {
"x": {"field": "epoch", "type": "quantitative"},
"y": {"field": "acc", "type": "quantitative"},
"text": {"field": "label"}
}
}
]
}
